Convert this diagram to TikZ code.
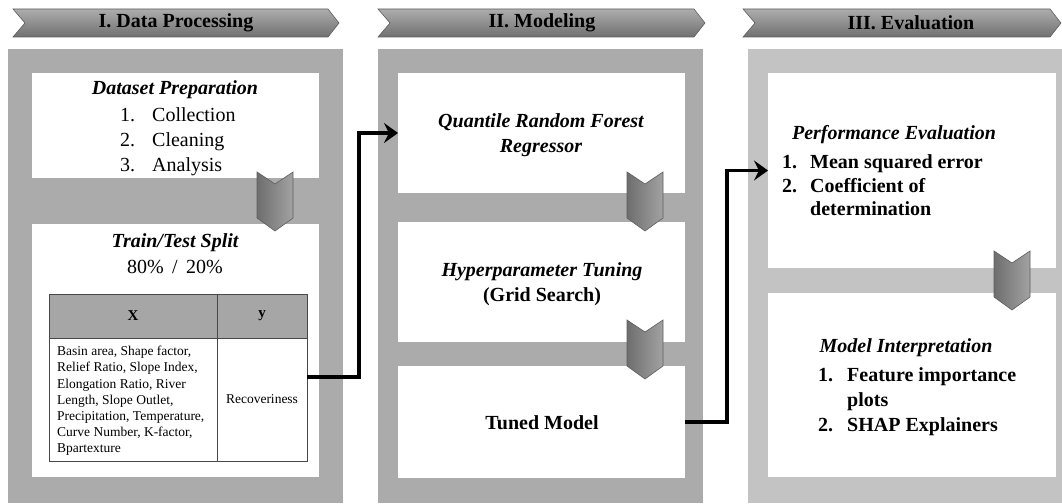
\documentclass[tikz,border=0pt]{standalone}
\usepackage{fontspec}
\setmainfont{Liberation Serif}
\usetikzlibrary{arrows.meta}
\definecolor{panelA}{HTML}{ABABAB}
\definecolor{panelB}{HTML}{C3C3C3}
\definecolor{thead}{HTML}{A6A6A6}
\definecolor{tline}{HTML}{484848}
\definecolor{chevTop}{HTML}{ADADAD}
\definecolor{chevBot}{HTML}{707070}
\definecolor{chevL}{HTML}{6E6E6E}
\definecolor{chevR}{HTML}{A2A2A2}
\definecolor{chevLine}{HTML}{5E5E5E}
\begin{document}
\begin{tikzpicture}[x=1pt,y=-1pt,
  box/.style={anchor=north west, inner sep=0pt, outer sep=0pt},
  panelone/.style={box, fill=panelA},
  paneltwo/.style={box, fill=panelB},
  whitebox/.style={box, fill=white},
  hdrshape/.style={draw=chevLine, line width=0.6pt, top color=chevTop, bottom color=chevBot},
  hdrtext/.style={font=\fontsize{20}{24}\selectfont\bfseries, inner sep=0pt},
  maintext/.style={font=\fontsize{20}{25}\selectfont, inner sep=0pt},
  cell/.style={box, draw=tline, line width=1pt},
  conn/.style={line width=3.6pt, -{Stealth[length=14pt,width=20pt,inset=5pt]}},
  downchev/.pic={
    \draw[draw=chevLine, line width=0.6pt, left color=chevL, right color=chevR]
      (0,0) -- (18,12) -- (36,0) -- (36,46) -- (18,59) -- (0,46) -- cycle;
  }
]
\useasboundingbox (0,0) rectangle (1062,503);

% header chevrons
\draw[hdrshape] (13,9) -- (328,9) -- (339,23) -- (328,37) -- (13,37) -- (25,23) -- cycle;
\draw[hdrshape] (378,9) -- (694,9) -- (705,23) -- (694,37) -- (378,37) -- (390,23) -- cycle;
\draw[hdrshape] (743,9) -- (1050,9) -- (1061,23) -- (1050,37) -- (743,37) -- (755,23) -- cycle;
\node[hdrtext] (h1) at (176,23) {I. Data Processing};
\node[hdrtext] (h2) at (542,23) {II. Modeling};
\node[hdrtext] (h3) at (911,23) {III. Evaluation};

% panels
\node[panelone, minimum width=335pt, minimum height=454pt] (p1) at (8,49) {};
\node[panelone, minimum width=325pt, minimum height=454pt] (p2) at (378,49) {};
\node[paneltwo, minimum width=314pt, minimum height=454pt] (p3) at (748,49) {};

% white boxes
\node[whitebox, minimum width=287pt, minimum height=105pt] (dprep) at (32,73) {};
\node[whitebox, minimum width=287pt, minimum height=253pt] (split) at (32,224) {};
\node[whitebox, minimum width=287pt, minimum height=120pt] (qrf) at (398,73) {};
\node[whitebox, minimum width=287pt, minimum height=120pt] (hyper) at (398,222) {};
\node[whitebox, minimum width=287pt, minimum height=112pt] (tuned) at (398,366) {};
\node[whitebox, minimum width=288pt, minimum height=195pt] (perf) at (768,73) {};
\node[whitebox, minimum width=288pt, minimum height=184pt] (interp) at (768,293) {};

% column 1 text
\node[maintext, font=\fontsize{20}{25}\selectfont\bfseries\itshape] (dpt) at (175,90) {Dataset Preparation};
\node[maintext, anchor=base west] (c1n) at (120,121) {1.};
\node[maintext, anchor=base west] (c1t) at (152,121) {Collection};
\node[maintext, anchor=base west] (c2n) at (120,146) {2.};
\node[maintext, anchor=base west] (c2t) at (152,146) {Cleaning};
\node[maintext, anchor=base west] (c3n) at (120,171) {3.};
\node[maintext, anchor=base west] (c3t) at (152,171) {Analysis};
\node[maintext, font=\fontsize{20}{25}\selectfont\bfseries\itshape] (tts) at (175,243) {Train/Test Split};
\node[maintext] (pct) at (175,267) {80\% \,/\, 20\%};

% table
\node[cell, fill=thead, minimum width=168pt, minimum height=44pt] (tx) at (49,294) {};
\node[cell, fill=thead, minimum width=90pt, minimum height=44pt] (ty) at (217,294) {};
\node[cell, fill=white, minimum width=168pt, minimum height=123pt] (bx) at (49,338) {};
\node[cell, fill=white, minimum width=90pt, minimum height=123pt] (by) at (217,338) {};
\node[inner sep=0pt, font=\fontsize{15}{18}\selectfont\bfseries] (txl) at (tx.center) {X};
\node[inner sep=0pt, font=\fontsize{15}{18}\selectfont\bfseries] (tyl) at (ty.center) {y};
\node[inner sep=0pt, anchor=west, align=left, font=\fontsize{13.5}{16.2}\selectfont] (bxl) at (57,401)
  {Basin area, Shape factor,\\Relief Ratio, Slope Index,\\Elongation Ratio, River\\Length, Slope Outlet,\\Precipitation, Temperature,\\Curve Number, K-factor,\\Bpartexture};
\node[inner sep=0pt, font=\fontsize{13.5}{16.2}\selectfont] (byl) at (by.center) {Recoveriness};
\coordinate (tblE) at (307,377);

% column 2 text
\node[maintext, align=center, font=\fontsize{20}{24.5}\selectfont\bfseries\itshape] (qrft) at (541,135) {Quantile Random Forest\\Regressor};
\node[maintext, font=\fontsize{20}{25}\selectfont\bfseries\itshape] (hpt) at (542,272) {Hyperparameter Tuning};
\node[maintext, font=\fontsize{20}{25}\selectfont\bfseries] (gst) at (542,297) {(Grid Search)};
\node[maintext, font=\fontsize{20}{25}\selectfont\bfseries] (tmt) at (542,423) {Tuned Model};

% column 3 text
\node[maintext, font=\fontsize{20}{25}\selectfont\bfseries\itshape] (pet) at (894,135) {Performance Evaluation};
\node[maintext, anchor=base west, font=\fontsize{20}{25}\selectfont\bfseries] (m1n) at (782,168) {1.};
\node[maintext, anchor=base west, font=\fontsize{20}{25}\selectfont\bfseries] (m1t) at (810,168) {Mean squared error};
\node[maintext, anchor=base west, font=\fontsize{20}{25}\selectfont\bfseries] (m2n) at (782,192) {2.};
\node[maintext, anchor=base west, font=\fontsize{20}{25}\selectfont\bfseries] (m2t) at (810,192) {Coefficient of};
\node[maintext, anchor=base west, font=\fontsize{20}{25}\selectfont\bfseries] (m3t) at (810,215) {determination};

\node[maintext, font=\fontsize{20}{25}\selectfont\bfseries\itshape] (mit) at (906,348) {Model Interpretation};
\node[maintext, anchor=base west, font=\fontsize{20}{25}\selectfont\bfseries] (f1n) at (818,381) {1.};
\node[maintext, anchor=base west, font=\fontsize{20}{25}\selectfont\bfseries] (f1t) at (847,381) {Feature importance};
\node[maintext, anchor=base west, font=\fontsize{20}{25}\selectfont\bfseries] (f2t) at (847,406) {plots};
\node[maintext, anchor=base west, font=\fontsize{20}{25}\selectfont\bfseries] (f3n) at (818,431) {2.};
\node[maintext, anchor=base west, font=\fontsize{20}{25}\selectfont\bfseries] (f3t) at (847,431) {SHAP Explainers};

% down chevrons
\pic at (257,172) {downchev};
\pic at (627,172) {downchev};
\pic at (627,320) {downchev};
\pic at (994,251) {downchev};

% connectors
\draw[conn] (tblE) -- ++(52,0) |- (qrf.west);
\draw[conn] (tuned.east) -- ++(42,0) |- (perf.west);
\end{tikzpicture}
\end{document}
